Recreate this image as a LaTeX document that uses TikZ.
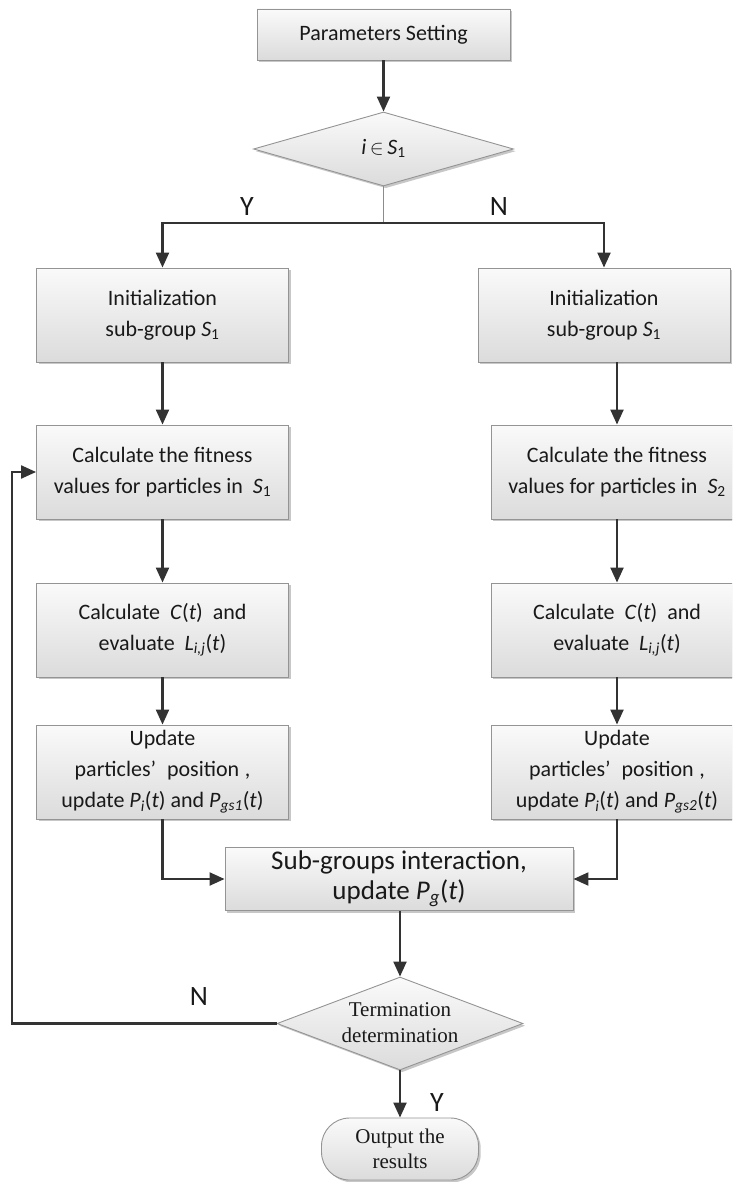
\documentclass[tikz,border=0pt]{standalone}
\usepackage{fontspec}
\setmainfont{Carlito}
\newfontfamily\seriffont{Liberation Serif}
\usetikzlibrary{arrows.meta,shapes.geometric,shadows}
\newcommand\dtext[1]{\smash{\makebox[0pt]{\raisebox{-5.5pt}{\begin{tabular}{@{}c@{}}#1\end{tabular}}}}}
\newcommand\iv[1]{\textit{#1}}
\newcommand\subgfont{\fontsize{27}{30}\selectfont}
\tikzset{
  shade box/.style={draw=black!42, line width=0.9pt, top color=black!2, bottom color=black!14,
    drop shadow={shadow xshift=2.2pt, shadow yshift=-2.2pt, fill=black, opacity=0.22}},
  box/.style={shade box, align=center, inner sep=0pt, text=black!90,
    font=\fontsize{22}{31}\selectfont, minimum width=252pt, minimum height=94pt},
  dia/.style={shade box, shape=diamond, inner sep=0pt, text=black!90},
  term/.style={shade box, rounded corners=28pt, align=center, inner sep=0pt, text=black!90,
    font=\seriffont\fontsize{21}{25}\selectfont},
  arr/.style={draw=black!80, line width=2.2pt, -{Triangle[length=15pt,width=13pt]}},
  stub/.style={draw=black!45, line width=1.2pt},
  yn/.style={font=\fontsize{28}{30}\selectfont, text=black!90, inner sep=0pt}
}
\begin{document}
\begin{tikzpicture}[x=1pt,y=-1pt]
\useasboundingbox (0,0) rectangle (732,1182);
\clip (0,0) rectangle (732,1182);

% nodes
\node[box, minimum width=253pt, minimum height=51pt] (par) at (383.5,34.5) {Parameters Setting};
\node[dia, minimum width=260pt, minimum height=74pt, font=\fontsize{22}{26}\selectfont] (d1) at (383.5,149)
  {\dtext{\iv{i}\,$\in$\,\iv{S}\textsubscript{1}}};

\node[box] (ini1) at (162.5,315) {Initialization\\sub-group \iv{S}\textsubscript{1}};
\node[box] (ini2) at (604,315) {Initialization\\sub-group \iv{S}\textsubscript{1}};

\node[box] (fit1) at (162.5,472) {Calculate the fitness\\values for particles in\ \ \iv{S}\textsubscript{1}};
\node[box] (fit2) at (617,472) {Calculate the fitness\\values for particles in\ \ \iv{S}\textsubscript{2}};

\node[box] (cal1) at (162.5,630) {Calculate\ \ \iv{C}(\iv{t})\ \ and\\evaluate\ \ \iv{L}\textsubscript{\iv{i,j}}(\iv{t})};
\node[box] (cal2) at (617,630) {Calculate\ \ \iv{C}(\iv{t})\ \ and\\evaluate\ \ \iv{L}\textsubscript{\iv{i,j}}(\iv{t})};

\node[box] (upd1) at (162.5,772) {Update\\particles’\hspace{0.5em}position\hspace{0.25em},\\update \iv{P}\textsubscript{\iv{i}}(\iv{t}) and \iv{P}\textsubscript{\iv{gs1}}(\iv{t})};
\node[box] (upd2) at (617,772) {Update\\particles’\hspace{0.5em}position\hspace{0.25em},\\update \iv{P}\textsubscript{\iv{i}}(\iv{t}) and \iv{P}\textsubscript{\iv{gs2}}(\iv{t})};

\node[box, minimum width=348pt, minimum height=63pt, font=\subgfont] (sub) at (399,879)
  {Sub-groups interaction,\\update \iv{P}\textsubscript{\iv{g}}(\iv{t})};

\node[dia, minimum width=246pt, minimum height=93pt, font=\seriffont\fontsize{21}{26}\selectfont] (d2) at (400,1023.5)
  {\dtext{Termination\\determination}};

\node[term, minimum width=157pt, minimum height=62pt] (out) at (400,1149) {Output the\\results};

% labels
\node[yn] (ly) at (247,207) {Y};
\node[yn] (ln) at (499,207) {N};
\node[yn] (ln2) at (199,997) {N};
\node[yn] (ly2) at (437,1103) {Y};

% connectors
\coordinate (br) at (383.5,223);
\coordinate (lp) at (12,1023.5);
\draw[arr] (par.south) -- (d1.north);
\draw[stub] (d1.south) -- (br);
\draw[arr] (br) -| (ini1.north);
\draw[arr] (br) -| (ini2.north);
\draw[arr] (ini1.south) -- (fit1.north);
\draw[arr] (ini2.south -| fit2.north) -- (fit2.north);
\draw[arr] (fit1.south) -- (cal1.north);
\draw[arr] (fit2.south) -- (cal2.north);
\draw[arr] (cal1.south) -- (upd1.north);
\draw[arr] (cal2.south) -- (upd2.north);
\draw[arr] (upd1.south) |- (sub.west);
\draw[arr] (upd2.south) |- (sub.east);
\draw[arr] (sub.south -| d2.north) -- (d2.north);
\draw[arr] (d2.south) -- (out.north);
\draw[arr] (d2.west) -- (lp) |- (fit1.west);
\end{tikzpicture}
\end{document}
